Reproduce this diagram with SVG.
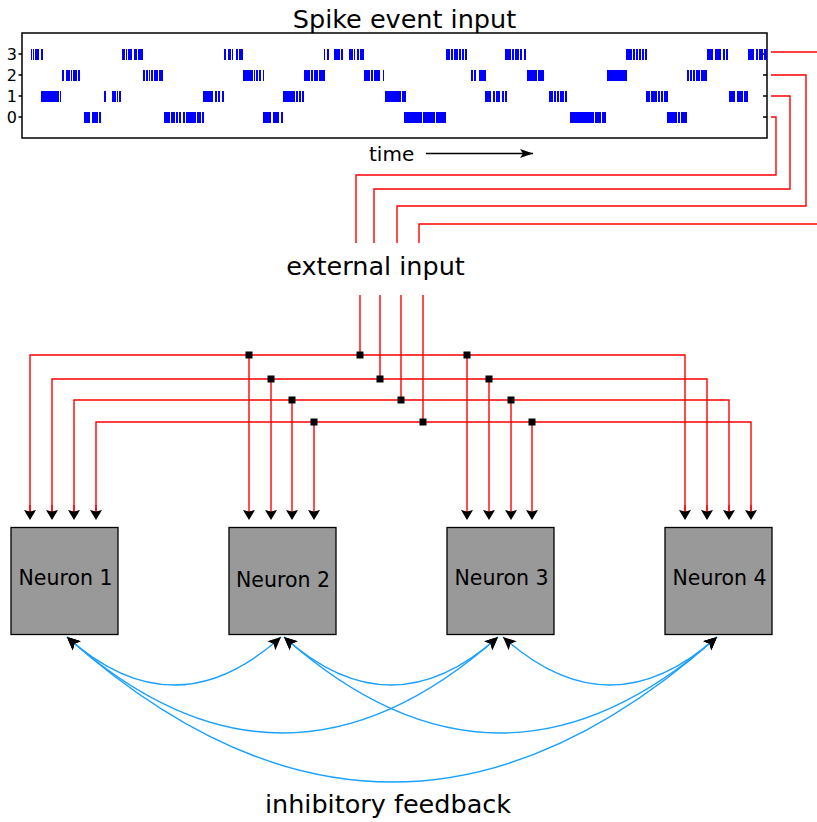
<svg xmlns="http://www.w3.org/2000/svg" width="817" height="822" viewBox="0 0 817 822">
  <defs>
    <style>
      text { font-family: "DejaVu Sans", "Liberation Sans", sans-serif; fill: #000; }
      .big { font-size: 25.5px; }
      .lbl { font-size: 20.5px; text-anchor: middle; }
      .tick { font-size: 16px; text-anchor: end; }
      .sp { stroke: #0000ff; stroke-width: 1.6; fill: none; shape-rendering: crispEdges; }
      .axis { stroke: #000; stroke-width: 1.5; fill: none; }
      .wire { stroke: #ff0000; stroke-width: 1.4; fill: none; }
      .inh { stroke: #1aa0ff; stroke-width: 1.4; fill: none; marker-start: url(#ah); marker-end: url(#ah); }
      .neuron rect { fill: #999999; stroke: #000; stroke-width: 1.3; }
      .dot { fill: #000; }
    </style>
    <marker id="ah" viewBox="-14 -7 15 14" refX="0" refY="0" markerWidth="15" markerHeight="14" markerUnits="userSpaceOnUse" orient="auto-start-reverse">
      <path d="M0 0L-13 -6L-10 0L-13 6Z" fill="#000"/>
    </marker>
    <marker id="ahr" viewBox="-11 -7 12 14" refX="-8" refY="0" markerWidth="12" markerHeight="14" markerUnits="userSpaceOnUse" orient="auto">
      <path d="M0 0L-10 -6L-8.5 0L-10 6Z" fill="#000"/>
    </marker>
    <marker id="ta" viewBox="-14 -5 15 10" refX="0" refY="0" markerWidth="15" markerHeight="10" markerUnits="userSpaceOnUse" orient="auto">
      <path d="M0 0L-13 -4.5L-10 0L-13 4.5Z" fill="#000"/>
    </marker>
  </defs>

  <rect width="817" height="822" fill="#fff"/>

  <!-- spike raster -->
  <g id="raster">
    <text class="big" x="404.5" y="28" text-anchor="middle">Spike event input</text>
    <rect class="axis" x="22" y="33" width="745" height="105"/>
    <path class="axis" stroke-width="1.2" d="M18.5 54H22M18.5 75H22M18.5 96H22M18.5 117H22M763 54H767M763 75H767M763 96H767M763 117H767"/>
    <text class="tick" x="17" y="60">3</text>
    <text class="tick" x="17" y="81">2</text>
    <text class="tick" x="17" y="102">1</text>
    <text class="tick" x="17" y="123">0</text>
    <!-- unit 3 -->
    <path class="sp" transform="translate(0,48.5)" d="M31.5 0v11M33.5 0v11M36 0v11M38 0v11M41.5 0v11M42.5 0v11M123 0v11M124.5 0v11M126.5 0v11M129 0v11M131 0v11M135 0v11M136.5 0v11M139 0v11M141 0v11M142.5 0v11M225 0v11M229 0v11M230.5 0v11M232.5 0v11M237 0v11M240 0v11M242 0v11M324.5 0v11M328 0v11M335 0v11M337 0v11M339 0v11M342 0v11M350 0v11M352 0v11M354.5 0v11M358 0v11M361 0v11M363 0v11M447 0v11M449 0v11M452 0v11M455 0v11M457 0v11M460 0v11M463 0v11M466 0v11M506 0v11M508 0v11M510 0v11M513 0v11M516 0v11M518 0v11M521 0v11M525 0v11M627 0v11M629 0v11M631 0v11M634 0v11M637 0v11M640 0v11M643 0v11M646 0v11M708 0v11M710 0v11M712 0v11M716 0v11M718 0v11M720 0v11M724 0v11M727 0v11M749 0v11M751 0v11M753 0v11M757 0v11M760 0v11M762 0v11M765 0v11M766 0v11"/>
    <!-- unit 2 -->
    <path class="sp" transform="translate(0,69.5)" d="M63 0v11M67 0v11M69 0v11M71.5 0v11M74 0v11M76 0v11M79 0v11M144 0v11M147 0v11M149.5 0v11M152 0v11M155 0v11M157 0v11M160 0v11M162 0v11M244 0v11M246 0v11M248 0v11M250 0v11M252 0v11M254.5 0v11M257 0v11M260 0v11M263.5 0v11M305 0v11M307 0v11M309 0v11M312 0v11M315 0v11M317 0v11M320 0v11M322 0v11M324 0v11M365 0v11M367 0v11M369 0v11M372 0v11M375 0v11M377 0v11M379 0v11M383.5 0v11M472 0v11M475 0v11M480 0v11M482 0v11M484 0v11M485.5 0v11M528 0v11M530 0v11M532 0v11M534 0v11M536 0v11M539 0v11M541 0v11M543 0v11M608 0v11M610 0v11M612 0v11M614 0v11M616 0v11M618 0v11M620 0v11M622 0v11M624 0v11M626 0v11M688 0v11M691 0v11M694 0v11M697 0v11M699 0v11M702 0v11M704 0v11M706 0v11"/>
    <!-- unit 1 -->
    <path class="sp" transform="translate(0,90.5)" d="M42 0v11M44 0v11M46 0v11M48 0v11M50 0v11M52 0v11M54 0v11M56 0v11M58 0v11M60.5 0v11M105 0v11M113 0v11M115 0v11M117.5 0v11M120 0v11M204 0v11M206 0v11M208 0v11M210 0v11M212 0v11M216 0v11M219 0v11M223 0v11M284 0v11M286 0v11M288 0v11M290 0v11M292 0v11M294 0v11M297 0v11M300 0v11M303 0v11M386 0v11M388 0v11M390 0v11M392 0v11M394 0v11M396 0v11M398 0v11M400 0v11M403 0v11M405 0v11M486 0v11M488 0v11M490 0v11M494 0v11M497 0v11M499 0v11M503 0v11M506 0v11M550 0v11M552 0v11M555 0v11M558 0v11M561 0v11M563 0v11M566 0v11M647 0v11M649 0v11M652 0v11M654 0v11M656 0v11M659 0v11M662 0v11M665 0v11M667 0v11M730 0v11M732 0v11M734 0v11M738 0v11M740 0v11M742 0v11M745 0v11M747 0v11"/>
    <!-- unit 0 -->
    <path class="sp" transform="translate(0,111.5)" d="M85 0v11M87 0v11M89 0v11M93 0v11M95 0v11M97 0v11M100 0v11M165 0v11M167 0v11M169 0v11M172 0v11M174 0v11M177 0v11M180 0v11M184 0v11M187 0v11M189 0v11M191 0v11M193 0v11M195 0v11M198 0v11M200 0v11M203 0v11M264 0v11M266 0v11M268 0v11M270 0v11M274 0v11M276 0v11M278 0v11M282 0v11M405 0v11M407 0v11M409 0v11M411 0v11M413 0v11M415 0v11M417 0v11M419 0v11M421 0v11M424 0v11M426 0v11M428 0v11M430 0v11M432 0v11M434 0v11M437 0v11M439 0v11M441 0v11M443 0v11M445 0v11M571 0v11M573 0v11M575 0v11M577 0v11M579 0v11M581 0v11M583 0v11M585 0v11M587 0v11M589 0v11M591 0v11M593 0v11M596 0v11M598 0v11M600 0v11M603 0v11M605 0v11M668 0v11M670 0v11M672 0v11M674 0v11M676 0v11M679 0v11M682 0v11M684 0v11M686 0v11"/>
    <text x="369" y="161" font-size="20">time</text>
    <path d="M426 153.5H533" stroke="#000" stroke-width="1.3" marker-end="url(#ta)"/>
  </g>

  <g id="external-input">
    <text class="big" x="375.5" y="275" text-anchor="middle">external input</text>
  </g>

  <!-- neurons -->
  <g id="neuron1" class="neuron">
    <rect x="11" y="527.5" width="107" height="107"/>
    <text class="lbl" x="65.5" y="585">Neuron 1</text>
  </g>
  <g id="neuron2" class="neuron">
    <rect x="229" y="527.5" width="107" height="107"/>
    <text class="lbl" x="283" y="587">Neuron 2</text>
  </g>
  <g id="neuron3" class="neuron">
    <rect x="447" y="527.5" width="107" height="107"/>
    <text class="lbl" x="501.5" y="585">Neuron 3</text>
  </g>
  <g id="neuron4" class="neuron">
    <rect x="665" y="527.5" width="107" height="107"/>
    <text class="lbl" x="719.5" y="585">Neuron 4</text>
  </g>

  <!-- connectors -->
  <g id="connectors">
    <!-- raster channels routed to the external input -->
    <path class="wire" d="M771 117H776V175H356V243"/>
    <path class="wire" d="M771 96H790V189H374V243"/>
    <path class="wire" d="M771 75H806V206H397V243"/>
    <path class="wire" d="M771 52H817"/>
    <path class="wire" d="M817 224H419V243"/>

    <!-- input drops onto the buses -->
    <path class="wire" d="M360 295V355M380 295V379M401 295V400M423 295V422"/>

    <!-- buses -->
    <path class="wire" d="M30 512V355H685V512"/>
    <path class="wire" d="M52 512V379H707V512"/>
    <path class="wire" d="M74 512V400H729V512"/>
    <path class="wire" d="M96 512V422H751V512"/>

    <!-- taps to every neuron -->
    <g marker-end="url(#ahr)">
      <path class="wire" d="M30 505V512"/>
      <path class="wire" d="M52 505V512"/>
      <path class="wire" d="M74 505V512"/>
      <path class="wire" d="M96 505V512"/>
      <path class="wire" d="M249 355V512"/>
      <path class="wire" d="M271 379V512"/>
      <path class="wire" d="M292 400V512"/>
      <path class="wire" d="M314 422V512"/>
      <path class="wire" d="M467 355V512"/>
      <path class="wire" d="M489 379V512"/>
      <path class="wire" d="M511 400V512"/>
      <path class="wire" d="M532 422V512"/>
      <path class="wire" d="M685 505V512"/>
      <path class="wire" d="M707 505V512"/>
      <path class="wire" d="M729 505V512"/>
      <path class="wire" d="M751 505V512"/>
    </g>

    <!-- junction dots -->
    <g class="dot">
      <rect x="245.5" y="351.5" width="7" height="7"/>
      <rect x="356.5" y="351.5" width="7" height="7"/>
      <rect x="463.5" y="351.5" width="7" height="7"/>
      <rect x="267.5" y="375.5" width="7" height="7"/>
      <rect x="376.5" y="375.5" width="7" height="7"/>
      <rect x="485.5" y="375.5" width="7" height="7"/>
      <rect x="288.5" y="396.5" width="7" height="7"/>
      <rect x="397.5" y="396.5" width="7" height="7"/>
      <rect x="507.5" y="396.5" width="7" height="7"/>
      <rect x="310.5" y="418.5" width="7" height="7"/>
      <rect x="419.5" y="418.5" width="7" height="7"/>
      <rect x="528.5" y="418.5" width="7" height="7"/>
    </g>

    <!-- inhibitory feedback -->
    <path class="inh" d="M67 637Q174 733 281 637"/>
    <path class="inh" d="M284 637Q391 733 498 637"/>
    <path class="inh" d="M503 637Q610 733 717 637"/>
    <path class="inh" d="M67 637Q282 829 498 637"/>
    <path class="inh" d="M284 637Q500 829 717 637"/>
    <path class="inh" d="M67 637Q392 927 717 637"/>
  </g>

  <text class="big" x="388" y="813" text-anchor="middle">inhibitory feedback</text>
</svg>
